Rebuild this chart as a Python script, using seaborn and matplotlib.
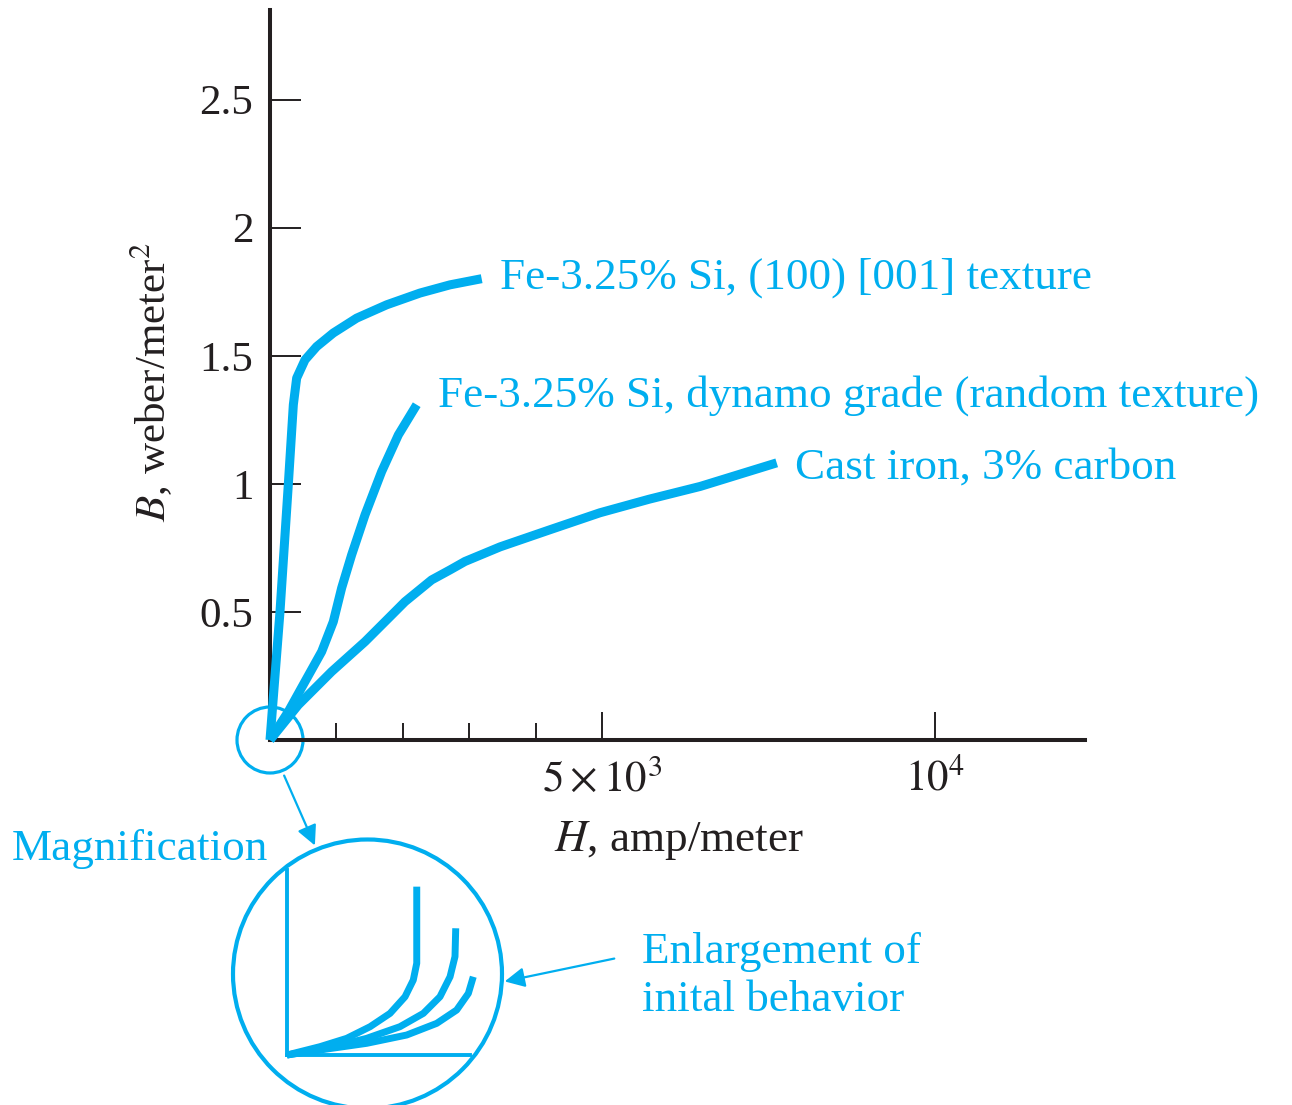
import matplotlib
matplotlib.use("Agg")
import matplotlib.pyplot as plt
import seaborn as sns
from matplotlib.patches import Circle, FancyArrowPatch
from matplotlib.ticker import FixedLocator

# ---------------- data (H in amp/meter, B in weber/meter^2) ----------------
textured_H = [0, 150, 276, 351, 401, 526, 702, 952, 1303, 1754, 2256, 2707, 3183]
textured_B = [0, 0.50, 1.00, 1.309, 1.413, 1.484, 1.536, 1.589, 1.647, 1.699, 1.745, 1.777, 1.801]

dynamo_H = [0, 276, 526, 777, 952, 1078, 1228, 1429, 1679, 1930, 2206]
dynamo_B = [0, 0.111, 0.228, 0.345, 0.462, 0.594, 0.723, 0.879, 1.048, 1.191, 1.309]

cast_H = [0, 426, 927, 1429, 1830, 2030, 2431, 2707, 2932, 3460, 4200, 4960, 5700, 6470, 7620]
cast_B = [0, 0.137, 0.267, 0.384, 0.488, 0.540, 0.625, 0.664, 0.697, 0.754, 0.82, 0.887, 0.94, 0.99, 1.082]

# schematic magnified initial behaviour (relative units)
mag1_x = [0, 0.180, 0.326, 0.454, 0.563, 0.645, 0.690, 0.709, 0.709]
mag1_y = [0, 0.045, 0.090, 0.153, 0.225, 0.315, 0.405, 0.496, 0.910]
mag2_x = [0, 0.217, 0.435, 0.617, 0.745, 0.836, 0.891, 0.918, 0.922]
mag2_y = [0, 0.036, 0.090, 0.153, 0.225, 0.315, 0.423, 0.532, 0.685]
mag3_x = [0, 0.180, 0.435, 0.654, 0.818, 0.927, 0.991, 1.018]
mag3_y = [0, 0.027, 0.063, 0.108, 0.171, 0.243, 0.333, 0.423]

series_labels = ["Fe-3.25% Si, (100) [001] texture",
                 "Fe-3.25% Si, dynamo grade (random texture)",
                 "Cast iron, 3% carbon"]
x_major = [5000, 10000]
x_major_labels = [r"$5\times10^3$", r"$10^4$"]
x_minor = [1000, 2000, 3000, 4000]
y_ticks = [0.5, 1, 1.5, 2, 2.5]
y_tick_labels = ["0.5", "1", "1.5", "2", "2.5"]

CYAN = "#00AEEF"
DARK = "#231F20"
FS = 32.5
FS_TICK = 31

sns.set_theme(style="white")
plt.rcParams["font.family"] = ["Liberation Serif", "DejaVu Serif"]
plt.rcParams["mathtext.fontset"] = "stix"

W, H = 1292, 1105
fig = plt.figure(figsize=(W / 100, H / 100), dpi=100)

# overlay in pixel coordinates for annotation graphics
ov = fig.add_axes([0, 0, 1, 1], zorder=0)
ov.set_xlim(0, W)
ov.set_ylim(H, 0)
ov.axis("off")

ax = fig.add_axes([270 / W, 1 - 740 / H, 815 / W, 730 / H], zorder=2)
ax.patch.set_alpha(0)

for hx, by in [(textured_H, textured_B), (dynamo_H, dynamo_B), (cast_H, cast_B)]:
    sns.lineplot(x=hx, y=by, ax=ax, color=CYAN, lw=6.5, sort=False,
                 estimator=None, solid_capstyle="butt", solid_joinstyle="round",
                 clip_on=False)

ax.set_xlim(0, 12256)
ax.set_ylim(0, 2.85)
for s in ["top", "right"]:
    ax.spines[s].set_visible(False)
for s in ["left", "bottom"]:
    ax.spines[s].set_linewidth(2.9)
    ax.spines[s].set_color(DARK)
    ax.spines[s].set_zorder(1)

ax.set_xticks(x_major)
ax.set_xticklabels(x_major_labels, fontsize=FS_TICK, color=DARK)
ax.xaxis.set_minor_locator(FixedLocator(x_minor))
ax.set_yticks(y_ticks)
ax.set_yticklabels(y_tick_labels, fontsize=FS_TICK, color=DARK)
ax.tick_params(axis="x", which="major", bottom=True, direction="in", length=20,
               width=1.4, color=DARK, pad=14)
ax.tick_params(axis="x", which="minor", bottom=True, direction="in", length=12,
               width=1.4, color=DARK)
ax.tick_params(axis="y", which="major", left=True, direction="in", length=22,
               width=1.4, color=DARK, pad=12)
ax.tick_params(axis="y", which="minor", left=False)

ax.set_xlabel(r"$H$, amp/meter", fontsize=FS, color=DARK, va="center")
ax.xaxis.set_label_coords(0.502, -0.137)
ax.set_ylabel(r"$B$, weber/meter$^2$", fontsize=FS_TICK, color=DARK, va="center")
ax.yaxis.set_label_coords(-0.145, 0.49)

# curve labels
label_pos = [(3459, 1.762), (2526, 1.301), (7890, 1.02)]
for (lx, ly), txt in zip(label_pos, series_labels):
    ax.text(lx, ly, txt, fontsize=FS, color=CYAN, ha="left", va="baseline",
            clip_on=False)

# magnification graphics (pixel coordinates)
ov.add_patch(Circle((270, 740), 33, fill=False, ec=CYAN, lw=2.3, zorder=3))
ov.add_patch(Circle((367.5, 974), 134.5, fill=False, ec=CYAN, lw=3.0, zorder=3))
ov.add_patch(FancyArrowPatch((283, 773), (316, 848), arrowstyle="-|>",
                             mutation_scale=30, color=CYAN, lw=1.6, zorder=3))
ov.add_patch(FancyArrowPatch((617, 958), (502, 982), arrowstyle="-|>",
                             mutation_scale=30, color=CYAN, lw=1.6, zorder=3))
ov.text(12, 860, "Magnification", fontsize=FS, color=CYAN, ha="left", va="baseline")
ov.text(642, 963, "Enlargement of", fontsize=FS, color=CYAN, ha="left", va="baseline")
ov.text(642, 1011, "inital behavior", fontsize=FS, color=CYAN, ha="left", va="baseline")

# inset with enlarged initial behaviour
ins = fig.add_axes([287 / W, 1 - 1055 / H, 183 / W, 185 / H], zorder=3)
ins.patch.set_alpha(0)
for mx, my in [(mag1_x, mag1_y), (mag2_x, mag2_y), (mag3_x, mag3_y)]:
    sns.lineplot(x=mx, y=my, ax=ins, color=CYAN, lw=5.0, sort=False,
                 estimator=None, solid_capstyle="butt", solid_joinstyle="round",
                 clip_on=False)
ins.set_xlim(0, 1)
ins.set_ylim(0, 1)
ins.set_xticks([])
ins.set_yticks([])
ins.set_xlabel("")
ins.set_ylabel("")
for s in ["top", "right"]:
    ins.spines[s].set_visible(False)
for s in ["left", "bottom"]:
    ins.spines[s].set_color(CYAN)
    ins.spines[s].set_linewidth(2.8)

fig.savefig("out.png", dpi=100)
